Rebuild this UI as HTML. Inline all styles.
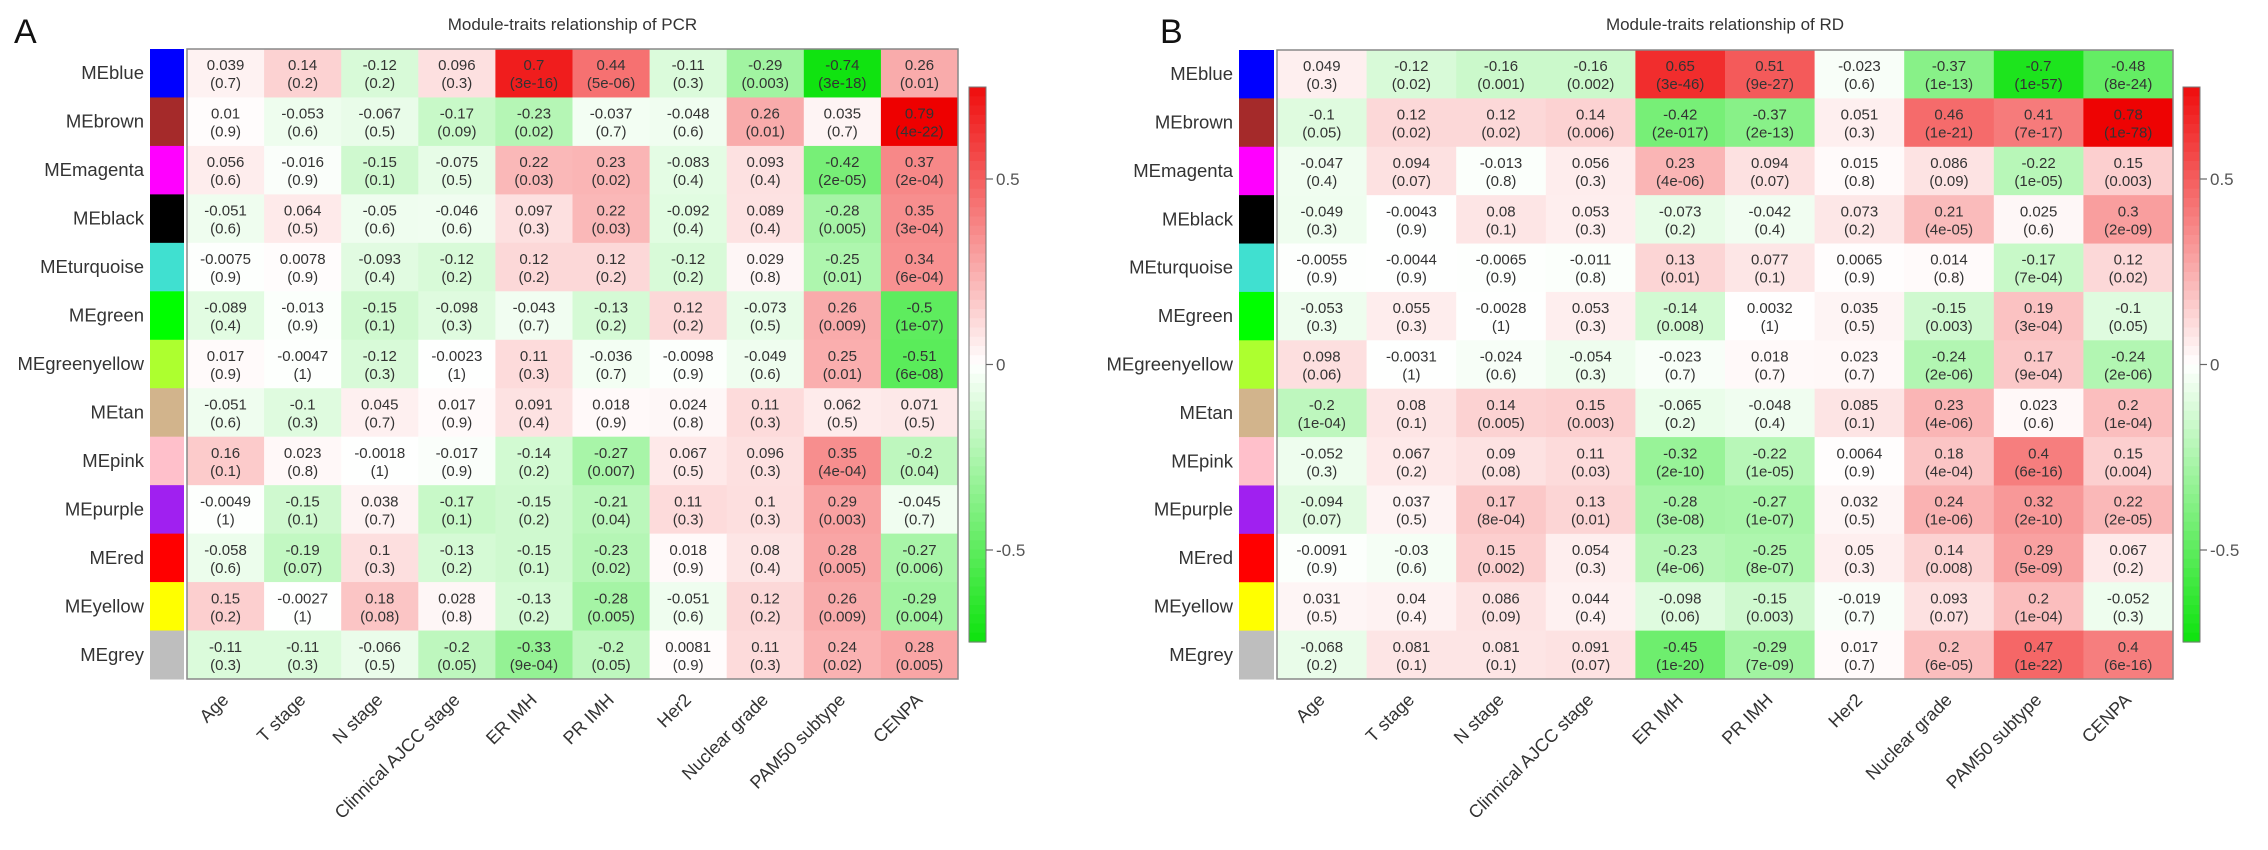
<!DOCTYPE html>
<html><head><meta charset="utf-8"><style>
html,body{margin:0;padding:0;background:#fff;}
svg{display:block;font-family:"Liberation Sans",sans-serif;}
</style></head><body>
<svg id="chart" width="2268" height="850" viewBox="0 0 2268 850" xmlns="http://www.w3.org/2000/svg"></svg>
<script>
const modules = ["MEblue","MEbrown","MEmagenta","MEblack","MEturquoise","MEgreen","MEgreenyellow","MEtan","MEpink","MEpurple","MEred","MEyellow","MEgrey"];
const moduleColors = ["#0000ff","#a52a2a","#ff00ff","#000000","#40e0d0","#00ff00","#adff2f","#d2b48c","#ffc0cb","#a020f0","#ff0000","#ffff00","#bebebe"];
const traits = ["Age","T stage","N stage","Clinnical AJCC stage","ER IMH","PR IMH","Her2","Nuclear grade","PAM50 subtype","CENPA"];
const colorbarTicks = [0.5, 0, -0.5];
const corrPCR = [
 [0.039,0.14,-0.12,0.096,0.7,0.44,-0.11,-0.29,-0.74,0.26],
 [0.01,-0.053,-0.067,-0.17,-0.23,-0.037,-0.048,0.26,0.035,0.79],
 [0.056,-0.016,-0.15,-0.075,0.22,0.23,-0.083,0.093,-0.42,0.37],
 [-0.051,0.064,-0.05,-0.046,0.097,0.22,-0.092,0.089,-0.28,0.35],
 [-0.0075,0.0078,-0.093,-0.12,0.12,0.12,-0.12,0.029,-0.25,0.34],
 [-0.089,-0.013,-0.15,-0.098,-0.043,-0.13,0.12,-0.073,0.26,-0.5],
 [0.017,-0.0047,-0.12,-0.0023,0.11,-0.036,-0.0098,-0.049,0.25,-0.51],
 [-0.051,-0.1,0.045,0.017,0.091,0.018,0.024,0.11,0.062,0.071],
 [0.16,0.023,-0.0018,-0.017,-0.14,-0.27,0.067,0.096,0.35,-0.2],
 [-0.0049,-0.15,0.038,-0.17,-0.15,-0.21,0.11,0.1,0.29,-0.045],
 [-0.058,-0.19,0.1,-0.13,-0.15,-0.23,0.018,0.08,0.28,-0.27],
 [0.15,-0.0027,0.18,0.028,-0.13,-0.28,-0.051,0.12,0.26,-0.29],
 [-0.11,-0.11,-0.066,-0.2,-0.33,-0.2,0.0081,0.11,0.24,0.28]
];
const pPCR = [
 ["0.7","0.2","0.2","0.3","3e-16","5e-06","0.3","0.003","3e-18","0.01"],
 ["0.9","0.6","0.5","0.09","0.02","0.7","0.6","0.01","0.7","4e-22"],
 ["0.6","0.9","0.1","0.5","0.03","0.02","0.4","0.4","2e-05","2e-04"],
 ["0.6","0.5","0.6","0.6","0.3","0.03","0.4","0.4","0.005","3e-04"],
 ["0.9","0.9","0.4","0.2","0.2","0.2","0.2","0.8","0.01","6e-04"],
 ["0.4","0.9","0.1","0.3","0.7","0.2","0.2","0.5","0.009","1e-07"],
 ["0.9","1","0.3","1","0.3","0.7","0.9","0.6","0.01","6e-08"],
 ["0.6","0.3","0.7","0.9","0.4","0.9","0.8","0.3","0.5","0.5"],
 ["0.1","0.8","1","0.9","0.2","0.007","0.5","0.3","4e-04","0.04"],
 ["1","0.1","0.7","0.1","0.2","0.04","0.3","0.3","0.003","0.7"],
 ["0.6","0.07","0.3","0.2","0.1","0.02","0.9","0.4","0.005","0.006"],
 ["0.2","1","0.08","0.8","0.2","0.005","0.6","0.2","0.009","0.004"],
 ["0.3","0.3","0.5","0.05","9e-04","0.05","0.9","0.3","0.02","0.005"]
];
const corrRD = [
 [0.049,-0.12,-0.16,-0.16,0.65,0.51,-0.023,-0.37,-0.7,-0.48],
 [-0.1,0.12,0.12,0.14,-0.42,-0.37,0.051,0.46,0.41,0.78],
 [-0.047,0.094,-0.013,0.056,0.23,0.094,0.015,0.086,-0.22,0.15],
 [-0.049,-0.0043,0.08,0.053,-0.073,-0.042,0.073,0.21,0.025,0.3],
 [-0.0055,-0.0044,-0.0065,-0.011,0.13,0.077,0.0065,0.014,-0.17,0.12],
 [-0.053,0.055,-0.0028,0.053,-0.14,0.0032,0.035,-0.15,0.19,-0.1],
 [0.098,-0.0031,-0.024,-0.054,-0.023,0.018,0.023,-0.24,0.17,-0.24],
 [-0.2,0.08,0.14,0.15,-0.065,-0.048,0.085,0.23,0.023,0.2],
 [-0.052,0.067,0.09,0.11,-0.32,-0.22,0.0064,0.18,0.4,0.15],
 [-0.094,0.037,0.17,0.13,-0.28,-0.27,0.032,0.24,0.32,0.22],
 [-0.0091,-0.03,0.15,0.054,-0.23,-0.25,0.05,0.14,0.29,0.067],
 [0.031,0.04,0.086,0.044,-0.098,-0.15,-0.019,0.093,0.2,-0.052],
 [-0.068,0.081,0.081,0.091,-0.45,-0.29,0.017,0.2,0.47,0.4]
];
const pRD = [
 ["0.3","0.02","0.001","0.002","3e-46","9e-27","0.6","1e-13","1e-57","8e-24"],
 ["0.05","0.02","0.02","0.006","2e-017","2e-13","0.3","1e-21","7e-17","1e-78"],
 ["0.4","0.07","0.8","0.3","4e-06","0.07","0.8","0.09","1e-05","0.003"],
 ["0.3","0.9","0.1","0.3","0.2","0.4","0.2","4e-05","0.6","2e-09"],
 ["0.9","0.9","0.9","0.8","0.01","0.1","0.9","0.8","7e-04","0.02"],
 ["0.3","0.3","1","0.3","0.008","1","0.5","0.003","3e-04","0.05"],
 ["0.06","1","0.6","0.3","0.7","0.7","0.7","2e-06","9e-04","2e-06"],
 ["1e-04","0.1","0.005","0.003","0.2","0.4","0.1","4e-06","0.6","1e-04"],
 ["0.3","0.2","0.08","0.03","2e-10","1e-05","0.9","4e-04","6e-16","0.004"],
 ["0.07","0.5","8e-04","0.01","3e-08","1e-07","0.5","1e-06","2e-10","2e-05"],
 ["0.9","0.6","0.002","0.3","4e-06","8e-07","0.3","0.008","5e-09","0.2"],
 ["0.5","0.4","0.09","0.4","0.06","0.003","0.7","0.07","1e-04","0.3"],
 ["0.2","0.1","0.1","0.07","1e-20","7e-09","0.7","6e-05","1e-22","6e-16"]
];

const NS = "http://www.w3.org/2000/svg";
const svg = document.getElementById("chart");
const ZLIM = 0.79;
function mk(tag, attrs, parent){
  const e = document.createElementNS(NS, tag);
  for (const k in attrs) e.setAttribute(k, attrs[k]);
  (parent||svg).appendChild(e);
  return e;
}
function colorFor(v){
  let t = Math.min(1, Math.abs(v)/ZLIM);
  const a = Math.round(255*(1-t));
  if (v >= 0) return "rgb(" + Math.round(255-17*t) + "," + a + "," + a + ")";
  return "rgb(" + a + "," + Math.round(255-30*t) + "," + a + ")";
}

function panel(cfg){
  const g = mk("g", {});
  
  
  const nR = modules.length, nC = traits.length;
  const cw = cfg.w / nC, rh = cfg.h / nR;
  const xScale = j => cfg.x0 + j*cw;
  const yScale = i => cfg.y0 + i*rh;
  const L = mk("text", {x: cfg.letterX, y: 43, "font-size": 34, fill: "#111"}, g);
  L.textContent = cfg.letter;
  
  
  const T = mk("text", {x: cfg.x0 + cfg.w/2, y: 30, "font-size": 17, fill: "#333", "text-anchor": "middle"}, g);
  T.textContent = cfg.title;
  
  
  for (let i=0;i<nR;i++){
    for (let j=0;j<nC;j++){
      const v = cfg.corr[i][j];
      const r = mk("rect", {x: xScale(j), y: yScale(i), width: cw+0.5, height: rh+0.5, fill: colorFor(v)}, g);
      
      
      const cx = xScale(j) + cw/2, cy = yScale(i) + rh/2;
      const t1 = mk("text", {x: cx, y: cy - 3, "font-size": 15, fill: "#333", "text-anchor": "middle"}, g);
      t1.textContent = String(v);
      
      
      const t2 = mk("text", {x: cx, y: cy + 15, "font-size": 15, fill: "#333", "text-anchor": "middle"}, g);
      t2.textContent = "(" + cfg.p[i][j] + ")";
      
      
    }
    const sw = mk("rect", {x: cfg.swX, y: yScale(i), width: cfg.swW, height: rh+0.5, fill: moduleColors[i]}, g);
    
    
    const lb = mk("text", {x: cfg.swX - 6, y: yScale(i) + rh/2 + 6, "font-size": 18.5, fill: "#333", "text-anchor": "end"}, g);
    lb.textContent = modules[i];
    
    
  }
  const bd = mk("rect", {x: cfg.x0, y: cfg.y0, width: cfg.w, height: cfg.h, fill: "none", stroke: "#888", "stroke-width": 1.5}, g);
  
  
  for (let j=0;j<nC;j++){
    const ax = xScale(j) + cw/2 + 4, ay = cfg.y0 + cfg.h + 22;
    const t = mk("text", {x: ax, y: ay, "font-size": 18, fill: "#333", "text-anchor": "end", transform: "rotate(-45 " + ax + " " + ay + ")"}, g);
    t.textContent = traits[j];
    
    
  }
  const cbTop = 87, cbBot = 642, cbMid = (cbTop+cbBot)/2, cbUnit = 371;
  const cbY = v => cbMid - v*cbUnit;
  const steps = 60;
  for (let k=0;k<steps;k++){
    const v = 0.75 - (k+0.5)*1.5/steps;
    const seg = mk("rect", {x: cfg.cbX, y: cbTop + k*(cbBot-cbTop)/steps, width: 17, height: (cbBot-cbTop)/steps + 0.6, fill: colorFor(v)}, g);
    
    
  }
  const cbb = mk("rect", {x: cfg.cbX, y: cbTop, width: 17, height: cbBot-cbTop, fill: "none", stroke: "#777", "stroke-width": 1}, g);
  
  
  colorbarTicks.forEach(v => {
    const y = cbY(v);
    const tl = mk("line", {x1: cfg.cbX+17, x2: cfg.cbX+24, y1: y, y2: y, stroke: "#666", "stroke-width": 1.2}, g);
    
    
    const tt = mk("text", {x: cfg.cbX+27, y: y+6, "font-size": 17, fill: "#555"}, g);
    tt.textContent = String(v);
    
    
  });
}

panel({name: "panel-a-pcr", letter: "A", letterX: 14, title: "Module-traits relationship of PCR",
  x0: 187, y0: 49, w: 771, h: 630, swX: 150, swW: 34, cbX: 969, corr: corrPCR, p: pPCR});
panel({name: "panel-b-rd", letter: "B", letterX: 1160, title: "Module-traits relationship of RD",
  x0: 1277, y0: 50, w: 896, h: 629, swX: 1239, swW: 35, cbX: 2183, corr: corrRD, p: pRD});
</script>
</body></html>
